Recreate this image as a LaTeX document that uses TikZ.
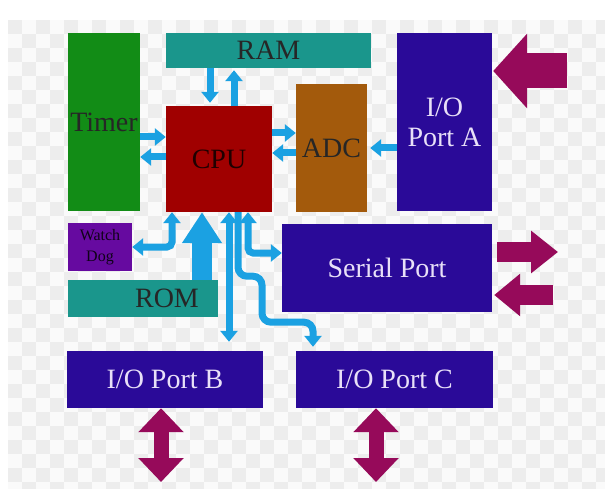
\documentclass[tikz,border=0pt]{standalone}
\usepackage{fontspec}
\setmainfont{Liberation Serif}
\usetikzlibrary{arrows.meta}
\definecolor{cyanA}{RGB}{27,161,226}
\definecolor{magA}{RGB}{150,10,90}
\definecolor{greenT}{RGB}{18,140,22}
\definecolor{tealT}{RGB}{26,150,140}
\definecolor{redT}{RGB}{160,0,0}
\definecolor{brownT}{RGB}{163,90,12}
\definecolor{indigoT}{RGB}{42,10,152}
\definecolor{purpleT}{RGB}{102,10,160}
\definecolor{lavT}{RGB}{232,224,248}
\definecolor{checkT}{RGB}{237,237,237}
\definecolor{bgT}{RGB}{250,250,250}
\begin{document}
\begin{tikzpicture}[x=1pt,y=-1pt,
  box/.style={draw=none, inner sep=0pt, align=center, text=black!85,
    font=\fontsize{28}{30}\selectfont},
  darkbox/.style={box, fill=indigoT, text=lavT},
  cy/.style={draw=cyanA, line width=7pt, -{Triangle[width=17pt,length=11pt]}},
  cyd/.style={draw=cyanA, line width=7pt, {Triangle[width=17pt,length=11pt]}-{Triangle[width=17pt,length=11pt]}},
  bigcy/.style={draw=cyanA, line width=20pt, -{Triangle[width=38pt,length=31pt]}},
  magarrow/.style={draw=magA, line width=20pt, -{Triangle[width=41pt,length=27pt]}},
  magdouble/.style={draw=magA, line width=15pt, {Triangle[width=44pt,length=24pt]}-{Triangle[width=44pt,length=24pt]}}
]
\useasboundingbox (0,0) rectangle (605,489);
\fill[white] (0,0) rectangle (605,489);
\fill[bgT] (8,20) rectangle (605,489);
\begin{scope}
\clip (8,20) rectangle (605,489);
\foreach \i in {0,...,21} \foreach \j in {0,...,17} {
  \fill[checkT] (8+\i*28,20+\j*28) rectangle ++(14,14);
  \fill[checkT] (8+\i*28+14,20+\j*28+14) rectangle ++(14,14);
}
\end{scope}

% boxes
\node[box, fill=greenT, minimum width=72, minimum height=178] (timer) at (104,122) {Timer};
\node[box, fill=tealT, minimum width=205, minimum height=35] (ram) at (268.5,50.5) {RAM};
\node[box, fill=redT, minimum width=106, minimum height=106, text=black!80!redT] (cpu) at (219,159) {CPU};
\node[box, fill=brownT, minimum width=71, minimum height=128] (adc) at (331.5,148) {ADC};
\node[darkbox, minimum width=95, minimum height=178] (porta) at (444.5,122) {I/O\\Port A};
\node[box, fill=purpleT, minimum width=64, minimum height=48, text=black!85!purpleT,
  font=\fontsize{16}{21}\selectfont] (wd) at (100,247) {Watch\\Dog};
\node[box, fill=tealT, minimum width=150, minimum height=37] (rom) at (143,298.5) {\hspace*{48pt}ROM};
\node[darkbox, minimum width=210, minimum height=88] (serial) at (387,268) {Serial Port};
\node[darkbox, minimum width=196, minimum height=57] (portb) at (165,379.5) {I/O Port B};
\node[darkbox, minimum width=197, minimum height=57] (portc) at (394.5,379.5) {I/O Port C};

% cyan connectors
\draw[cy] ([xshift=-9pt]cpu.north |- ram.south) -- ([xshift=-9pt,yshift=3pt]cpu.north);
\draw[cy] ([xshift=15pt]cpu.north) -- ([xshift=15pt,yshift=-2pt]cpu.north |- ram.south);
\draw[cy] ([yshift=22pt]cpu.west -| timer.east) -- ([yshift=22pt]cpu.west);
\draw[cy] ([yshift=2pt]cpu.west) -- ([yshift=2pt]cpu.west -| timer.east);
\draw[cy] ([yshift=26pt]cpu.east) -- ([yshift=26pt]cpu.east -| adc.west);
\draw[cy] ([yshift=6pt]cpu.east -| adc.west) -- ([yshift=6pt]cpu.east);
\draw[cy] (porta.west |- adc.east) -- ([xshift=3pt]adc.east);

\draw[cyd, rounded corners=5pt] (wd.east) -| ([xshift=-47pt]cpu.south);
\draw[bigcy] ([xshift=-17pt]cpu.south |- rom.north) -- ([xshift=-17pt]cpu.south);
\draw[cyd, shorten >=9pt] ([xshift=10pt]cpu.south) -- ([xshift=10pt]cpu.south |- portb.north);
\draw[cyd, rounded corners=5pt] ([xshift=29pt]cpu.south) |- ([yshift=15pt]serial.west);
\draw[cy, rounded corners=9pt, shorten >=4pt] ([xshift=19pt]cpu.south) -- ++(0,64) -- ++(24,0) -- ++(0,46) -| ([xshift=-81.5pt]portc.north);

% magenta arrows
\coordinate (pa) at (567,71);
\coordinate (s1) at (558,252);
\coordinate (s2) at (553,295);
\coordinate (b1) at (161,482);
\coordinate (c1) at (376,482);
\draw[draw=magA, line width=35pt, -{Triangle[width=73pt,length=34pt]}] (pa) -- ([xshift=1pt]pa -| porta.east);
\draw[magarrow, shorten <=5pt] (serial.east |- s1) -- (s1);
\draw[magarrow, -{Triangle[width=41pt,length=26pt]}, shorten >=2pt] (s2) -- (s2 -| serial.east);
\draw[magdouble] (portb.south -| b1) -- (b1);
\draw[magdouble] (portc.south -| c1) -- (c1);
\end{tikzpicture}
\end{document}
